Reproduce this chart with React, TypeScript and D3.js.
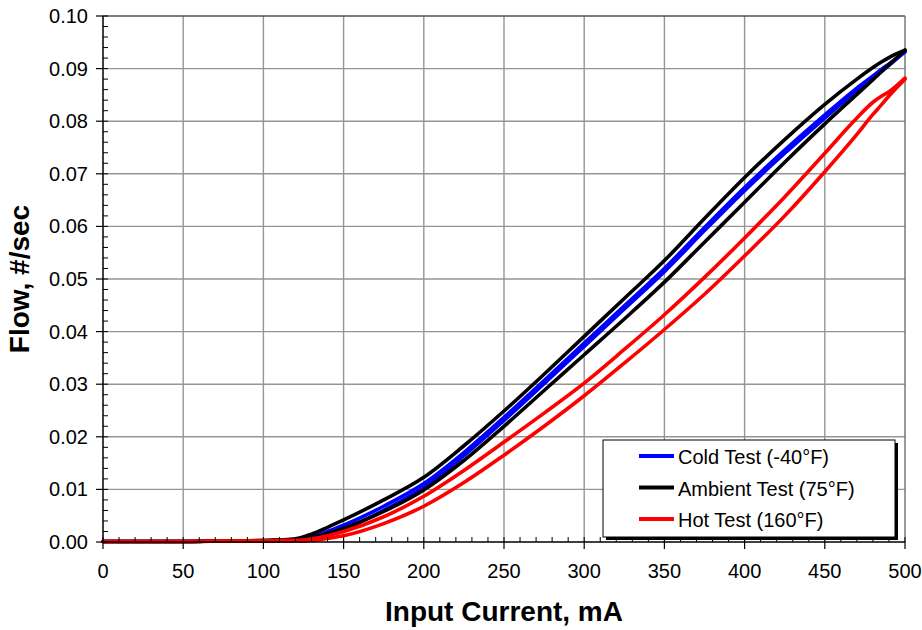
import React from "react";
import * as d3 from "d3";

// ---------- data ----------
const currentGrid = [0, 25, 50, 75, 100, 110, 120, 130, 140, 150, 175, 200, 225, 250, 275, 300, 325, 350, 375, 400, 425, 450, 470, 480, 485, 490, 500];

const coldDown = [0.0001, 0.0001, 0.0001, 0.0002, 0.0002, 0.0003, 0.0004, 0.0010, 0.0020, 0.0032, 0.0068, 0.0111, 0.0170, 0.0237, 0.0307, 0.0378, 0.0449, 0.0520, 0.0598, 0.0674, 0.0745, 0.0812, 0.0863, 0.0886, 0.0898, 0.0909, 0.0932];
const coldUp = [0.0001, 0.0001, 0.0001, 0.0002, 0.0002, 0.0003, 0.0003, 0.0006, 0.0014, 0.0024, 0.0060, 0.0104, 0.0164, 0.0231, 0.0301, 0.0372, 0.0443, 0.0514, 0.0592, 0.0668, 0.0739, 0.0806, 0.0858, 0.0882, 0.0894, 0.0906, 0.0932];
const ambientDown = [0.0001, 0.0001, 0.0001, 0.0002, 0.0003, 0.0004, 0.0006, 0.0015, 0.0028, 0.0042, 0.0080, 0.0123, 0.0183, 0.0249, 0.0319, 0.0391, 0.0463, 0.0535, 0.0615, 0.0693, 0.0765, 0.0832, 0.0880, 0.0902, 0.0912, 0.0921, 0.0935];
const ambientUp = [0.0001, 0.0001, 0.0001, 0.0002, 0.0002, 0.0003, 0.0004, 0.0008, 0.0016, 0.0026, 0.0058, 0.0099, 0.0155, 0.0220, 0.0288, 0.0356, 0.0424, 0.0494, 0.0570, 0.0646, 0.0722, 0.0795, 0.0851, 0.0879, 0.0893, 0.0907, 0.0935];
const hotDown = [0.0001, 0.0001, 0.0001, 0.0002, 0.0002, 0.0003, 0.0003, 0.0006, 0.0012, 0.0020, 0.0048, 0.0087, 0.0136, 0.0190, 0.0245, 0.0302, 0.0366, 0.0432, 0.0503, 0.0578, 0.0656, 0.0739, 0.0806, 0.0836, 0.0847, 0.0856, 0.0882];
const hotUp = [0.0001, 0.0001, 0.0001, 0.0002, 0.0002, 0.0002, 0.0002, 0.0003, 0.0007, 0.0012, 0.0035, 0.0068, 0.0113, 0.0165, 0.0220, 0.0278, 0.0340, 0.0404, 0.0471, 0.0544, 0.0620, 0.0704, 0.0775, 0.0813, 0.0830, 0.0848, 0.0880];

const xTicks = [0, 50, 100, 150, 200, 250, 300, 350, 400, 450, 500];
const yTicks = [0, 0.01, 0.02, 0.03, 0.04, 0.05, 0.06, 0.07, 0.08, 0.09, 0.1];
const legendLabels = ["Cold Test (-40°F)", "Ambient Test (75°F)", "Hot Test (160°F)"];
const seriesColors = ["#0000ff", "#000000", "#ff0000"];

const seriesList = [
  { values: coldDown, color: seriesColors[0] },
  { values: coldUp, color: seriesColors[0] },
  { values: ambientDown, color: seriesColors[1] },
  { values: ambientUp, color: seriesColors[1] },
  { values: hotDown, color: seriesColors[2] },
  { values: hotUp, color: seriesColors[2] },
];

// ---------- layout ----------
const W = 922;
const H = 630;
const L = 103;
const R = 905;
const T = 16;
const B = 542;
const FONT = "'Liberation Sans', Arial, Helvetica, sans-serif";

export default function App() {
  const x = d3.scaleLinear().domain([0, 500]).range([L, R]);
  const y = d3.scaleLinear().domain([0, 0.1]).range([B, T]);

  const line = d3
    .line<number>()
    .x((_, i) => x(currentGrid[i]))
    .y((d) => y(d))
    .curve(d3.curveMonotoneX);

  const xMinor = d3.range(0, 501, 10);
  const yMinor = d3.range(0, 0.1001, 0.002);

  return (
    <svg
      width={W}
      height={H}
      viewBox={`0 0 ${W} ${H}`}
      style={{ position: "absolute", left: 0, top: 0, background: "#fff" }}
      fontFamily={FONT}
    >
      <rect x={0} y={0} width={W} height={H} fill="#fff" />
      {/* gridlines */}
      {xTicks.slice(1, -1).map((t) => (
        <line key={"gx" + t} x1={x(t)} x2={x(t)} y1={T} y2={B} stroke="#959595" strokeWidth={1.4} />
      ))}
      {yTicks.slice(1, -1).map((t) => (
        <line key={"gy" + t} x1={L} x2={R} y1={y(t)} y2={y(t)} stroke="#959595" strokeWidth={1.4} />
      ))}
      {/* plot border top/right */}
      <line x1={L} x2={R} y1={T} y2={T} stroke="#505050" strokeWidth={1.6} />
      <line x1={R} x2={R} y1={T} y2={B} stroke="#707070" strokeWidth={1.4} />

      {/* curves */}
      {seriesList.map((s, i) => (
        <path
          key={"s" + i}
          d={line(s.values) || ""}
          fill="none"
          stroke={s.color}
          strokeWidth={3.6}
          strokeLinejoin="round"
          strokeLinecap="round"
        />
      ))}

      {/* axes */}
      <line x1={L} x2={L} y1={T} y2={B + 0.5} stroke="#000" strokeWidth={1.5} />
      <line x1={L} x2={R} y1={B} y2={B} stroke="#000" strokeWidth={1.5} />
      {yMinor.map((t, i) => (
        <line key={"ym" + i} x1={L} x2={L + 5} y1={y(t)} y2={y(t)} stroke="#000" strokeWidth={1} />
      ))}
      {yTicks.map((t) => (
        <line key={"yt" + t} x1={L - 7} x2={L} y1={y(t)} y2={y(t)} stroke="#000" strokeWidth={1.2} />
      ))}
      {xMinor.map((t) => (
        <line key={"xm" + t} x1={x(t)} x2={x(t)} y1={B - 5} y2={B} stroke="#000" strokeWidth={1} />
      ))}
      {xTicks.map((t) => (
        <line key={"xt" + t} x1={x(t)} x2={x(t)} y1={B} y2={B + 7} stroke="#000" strokeWidth={1.2} />
      ))}

      {/* tick labels */}
      {yTicks.map((t) => (
        <text key={"yl" + t} x={88} y={y(t) + 7} fontSize={20} textAnchor="end" fill="#000">
          {t.toFixed(2)}
        </text>
      ))}
      {xTicks.map((t) => (
        <text key={"xl" + t} x={x(t)} y={578} fontSize={20} textAnchor="middle" fill="#000">
          {t}
        </text>
      ))}

      {/* axis titles */}
      <text x={(L + R) / 2} y={621} fontSize={28} fontWeight="bold" textAnchor="middle" fill="#000">
        Input Current, mA
      </text>
      <text
        transform={`translate(29, ${(T + B) / 2}) rotate(-90)`}
        fontSize={28}
        fontWeight="bold"
        textAnchor="middle"
        fill="#000"
      >
        Flow, #/sec
      </text>

      {/* legend */}
      <rect x={606} y={443} width={292} height={97} fill="#000" />
      <rect x={603} y={440} width={292} height={97} fill="#fff" stroke="#000" strokeWidth={1} />
      {legendLabels.map((lab, i) => (
        <g key={"lg" + i}>
          <line x1={639} x2={674} y1={456 + i * 31.5} y2={456 + i * 31.5} stroke={seriesColors[i]} strokeWidth={3.8} />
          <text x={678} y={464 + i * 31.5} fontSize={20} fill="#000">
            {lab}
          </text>
        </g>
      ))}
    </svg>
  );
}
